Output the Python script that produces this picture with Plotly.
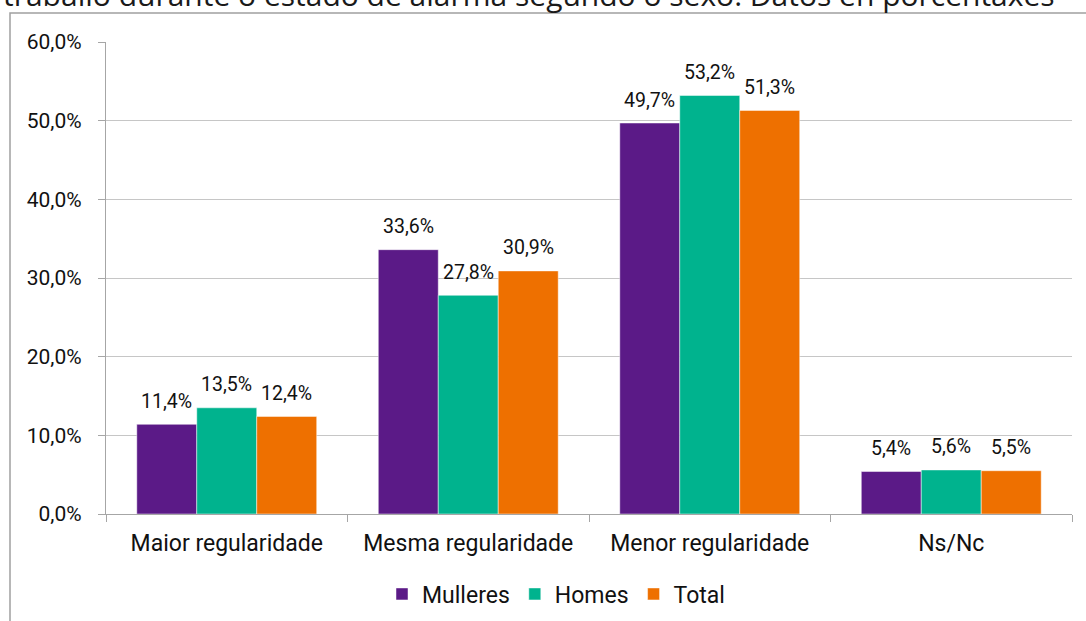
import plotly.graph_objects as go

categories = ["Maior regularidade", "Mesma regularidade", "Menor regularidade", "Ns/Nc"]
mulleres = [11.4, 33.6, 49.7, 5.4]
homes = [13.5, 27.8, 53.2, 5.6]
total = [12.4, 30.9, 51.3, 5.5]
series_names = ["Mulleres", "Homes", "Total"]
series_colors = ["#5B1A87", "#00B38E", "#EE7000"]
y_ticks = [0, 10, 20, 30, 40, 50, 60]
y_tick_labels = [f"{v:.1f}%".replace(".", ",") for v in y_ticks]
title_text = "traballo durante o estado de alarma segundo o sexo. Datos en porcentaxes"

FONT = "Roboto"
W, H = 1086, 621
ML, MR, MT, MB = 106, 14, 42, 107
BARGAP = 0.255

fig = go.Figure()
for name, vals, col in zip(series_names, [mulleres, homes, total], series_colors):
    fig.add_trace(go.Bar(
        name=name, x=categories, y=vals,
        marker=dict(color=col, line=dict(color="rgba(255,255,255,0.6)", width=0.8)),
        cliponaxis=False,
    ))

# data labels, anchored to each bar's value through the axes
plot_w = W - ML - MR
bar_px = plot_w / len(categories) * (1 - BARGAP) / len(series_names)
for k, vals in enumerate([mulleres, homes, total]):
    for cat, v in zip(categories, vals):
        fig.add_annotation(
            x=cat, y=v, xref="x", yref="y",
            text=f"{v:.1f}%".replace(".", ","),
            xshift=(k - 1) * bar_px, yshift=23,
            xanchor="center", yanchor="middle", showarrow=False,
            font=dict(family=FONT, size=19.5, color="#111111"),
        )

fig.update_layout(
    width=W, height=H,
    margin=dict(l=ML, r=MR, t=MT, b=MB),
    paper_bgcolor="white", plot_bgcolor="white",
    separators=",.",
    barmode="group", bargap=BARGAP, bargroupgap=0,
    font=dict(family=FONT, size=20, color="#111111"),
    legend=dict(orientation="h", x=0.5 + 13 / W, xanchor="center", xref="container",
                y=(H - 594) / H, yanchor="middle", yref="container",
                font=dict(family=FONT, size=23, color="#111111"),
                itemclick=False),
    showlegend=True,
)

fig.update_xaxes(
    showline=True, linecolor="#A6A6A6", linewidth=1.3,
    ticks="outside", ticklen=7, tickcolor="#A6A6A6", tickwidth=1.3,
    tickson="boundaries", showgrid=False, ticklabelstandoff=8,
    tickfont=dict(family=FONT, size=23, color="#111111"),
)
fig.update_yaxes(
    range=[0, 60], tickvals=y_ticks, ticktext=y_tick_labels,
    showline=True, linecolor="#A6A6A6", linewidth=1.3,
    ticks="outside", ticklen=7, tickcolor="#A6A6A6", tickwidth=1.3,
    showgrid=True, gridcolor="#C6C6C6", gridwidth=1.3,
    zeroline=False, ticklabelstandoff=12,
    tickfont=dict(family=FONT, size=21, color="#111111"),
)

# chart-area border (extends beyond the visible page on right and bottom)
fig.add_shape(type="rect", xref="paper", yref="paper",
              x0=(10 - ML) / plot_w, x1=1.2, y0=-0.5, y1=1 + (MT - 13) / (H - MT - MB),
              line=dict(color="#A0A0A0", width=1.5), fillcolor="rgba(0,0,0,0)", layer="below")

# cut-off title at the very top
fig.add_annotation(text=title_text, xref="paper", yref="paper",
                   x=(529 - ML) / plot_w, y=1 + MT / (H - MT - MB), yshift=6,
                   xanchor="center", yanchor="middle", showarrow=False,
                   font=dict(family="Open Sans", size=30, color="#1A1A1A"))

fig.write_html("out.html", config={"displayModeBar": False},
               post_script="document.body.style.margin='0';document.body.style.overflow='hidden';")
